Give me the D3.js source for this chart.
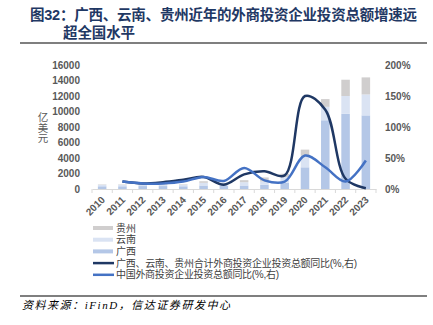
<!DOCTYPE html>
<html><head><meta charset="utf-8">
<script src="https://cdn.jsdelivr.net/npm/d3@7"></script>
<style>
body{margin:0;background:#fff;}
svg{display:block;font-family:Arial,"Liberation Sans","Noto Sans CJK SC",sans-serif;}
</style></head>
<body>
<svg id="c" width="433" height="325"></svg>
<script>
const years = ["2010","2011","2012","2013","2014","2015","2016","2017","2018","2019","2020","2021","2022","2023"];
const guangxi = [350,350,380,380,350,450,400,450,540,800,2800,8870,9700,9500];
const yunnan  = [200,200,180,180,200,350,250,430,430,730,1500,1730,2300,2700];
const guizhou = [50,50,50,50,60,200,130,260,520,440,780,1000,2100,2200];
const regionYoY = [null,12,9,11,15,19.5,7,23.6,28.5,22,150,128,16.5,1.3];
const chinaYoY  = [null,12,9,9,12,19.5,13,34,14,12,54,35,12,46];
const leftTicks = [0,2000,4000,6000,8000,10000,12000,14000,16000];
const rightTicks = [0,50,100,150,200];
const seriesNames = ["贵州","云南","广西","广西、云南、贵州合计外商投资企业投资总额同比(%,右)","中国外商投资企业投资总额同比(%,右)"];

const svg = d3.select("#c");
const CJK = '"Noto Sans CJK SC",sans-serif';
const LAT = 'Arial,"Liberation Sans","Noto Sans CJK SC",sans-serif';

// title
const title = svg.append("g").attr("fill","#1f3864").attr("font-family",LAT).attr("font-weight","bold").attr("font-size",14.5);
title.append("text").attr("x",30).attr("y",20).attr("textLength",387).attr("lengthAdjust","spacing").text("图32：广西、云南、贵州近年的外商投资企业投资总额增速远");
title.append("text").attr("x",63).attr("y",38).attr("textLength",72).attr("lengthAdjust","spacing").text("超全国水平");
svg.append("line").attr("x1",20).attr("x2",427).attr("y1",43).attr("y2",43).attr("stroke","#555").attr("stroke-width",1.5);

const x = d3.scaleBand().domain(years).range([92,376]).padding(0);
const y = d3.scaleLinear().domain([0,16000]).range([189,65]);
const yr = d3.scaleLinear().domain([0,200]).range([189,65]);

// stacked bars
const rows = years.map((yy,i)=>({year:yy,guangxi:guangxi[i],yunnan:yunnan[i],guizhou:guizhou[i]}));
const stack = d3.stack().keys(["guangxi","yunnan","guizhou"])(rows);
const colors = {guangxi:"#b4c7e7",yunnan:"#dae3f3",guizhou:"#d0cece"};
const bw = x.bandwidth()*0.42;
svg.append("g").selectAll("g").data(stack).join("g").attr("fill",d=>colors[d.key])
  .selectAll("rect").data(d=>d).join("rect")
  .attr("x",d=>x(d.data.year)+x.bandwidth()/2-bw/2)
  .attr("width",bw)
  .attr("y",d=>y(d[1]))
  .attr("height",d=>y(d[0])-y(d[1]));

// x axis
const xa = svg.append("g").attr("transform","translate(0,189)")
  .call(d3.axisBottom(x).tickSize(0).tickPadding(0));
xa.select(".domain").attr("stroke","#d9d9d9");
xa.selectAll(".tick text").attr("font-size",10).attr("font-weight","bold").attr("fill","#595959")
  .attr("text-anchor","end").attr("x",0).attr("y",0).attr("dy","0.35em")
  .attr("transform","translate(1,9) rotate(-45)");
svg.append("g").selectAll("line").data(years.concat(["end"])).join("line")
  .attr("x1",(d,i)=>x.range()[0]+i*x.step()).attr("x2",(d,i)=>x.range()[0]+i*x.step())
  .attr("y1",189).attr("y2",193).attr("stroke","#d9d9d9");

// left axis
const ya = svg.append("g").attr("transform","translate(86,0)").call(d3.axisLeft(y).tickValues(leftTicks).tickSize(0).tickFormat(d3.format("d")));
ya.select(".domain").remove();
ya.selectAll("text").attr("font-size",10).attr("font-weight","bold").attr("fill","#595959").attr("x",-6);

// right axis
const yra = svg.append("g").attr("transform","translate(381,0)").call(d3.axisRight(yr).tickValues(rightTicks).tickSize(0).tickFormat(d=>d+"%"));
yra.select(".domain").remove();
yra.selectAll("text").attr("font-size",10).attr("font-weight","bold").attr("fill","#595959").attr("x",4);

// left unit (vertical text)
svg.append("text").attr("x",43).attr("y",112).attr("font-family",CJK).attr("font-size",10.5).attr("fill","#595959")
  .attr("writing-mode","vertical-rl").attr("text-anchor","start").style("letter-spacing","0px")
  .text("亿美元");

// lines
const line = d3.line().defined(d=>d.v!=null).x(d=>x(d.year)+x.bandwidth()/2).y(d=>yr(d.v)).curve(d3.curveCatmullRom.alpha(0.5));
const toPts = arr=>years.map((yy,i)=>({year:yy,v:arr[i]})).filter(d=>d.v!=null);
svg.append("path").attr("d",line(toPts(regionYoY))).attr("fill","none").attr("stroke","#1f3864").attr("stroke-width",2.5);
svg.append("path").attr("d",line(toPts(chinaYoY))).attr("fill","none").attr("stroke","#4472c4").attr("stroke-width",2.5);

// legend
const lg = svg.append("g").attr("font-family",LAT).attr("font-size",10).attr("fill","#404040");
const lcol = [colors.guizhou,colors.yunnan,colors.guangxi,"#1f3864","#4472c4"];
seriesNames.forEach((n,i)=>{
  const yy = 228 + i*11.7;
  if(i<3) lg.append("rect").attr("x",93).attr("y",yy-2).attr("width",20).attr("height",4).attr("fill",lcol[i]);
  else lg.append("line").attr("x1",93).attr("x2",114).attr("y1",yy).attr("y2",yy).attr("stroke",lcol[i]).attr("stroke-width",2.5);
  const t = lg.append("text").attr("x",116).attr("y",yy).attr("dy","0.36em").text(n);
  if(i===3) t.attr("textLength",241).attr("lengthAdjust","spacing");
  if(i===4) t.attr("textLength",163).attr("lengthAdjust","spacing");
});

// source
svg.append("line").attr("x1",20).attr("x2",427).attr("y1",296).attr("y2",296).attr("stroke","#555").attr("stroke-width",1.5);
svg.append("text").attr("x",22).attr("y",309).attr("font-size",11).attr("font-style","italic")
  .attr("font-family",'"Liberation Serif","Noto Sans CJK SC",serif').attr("fill","#000")
  .attr("textLength",208).attr("lengthAdjust","spacing")
  .text("资料来源：iFinD，信达证券研发中心");
</script>
</body></html>
